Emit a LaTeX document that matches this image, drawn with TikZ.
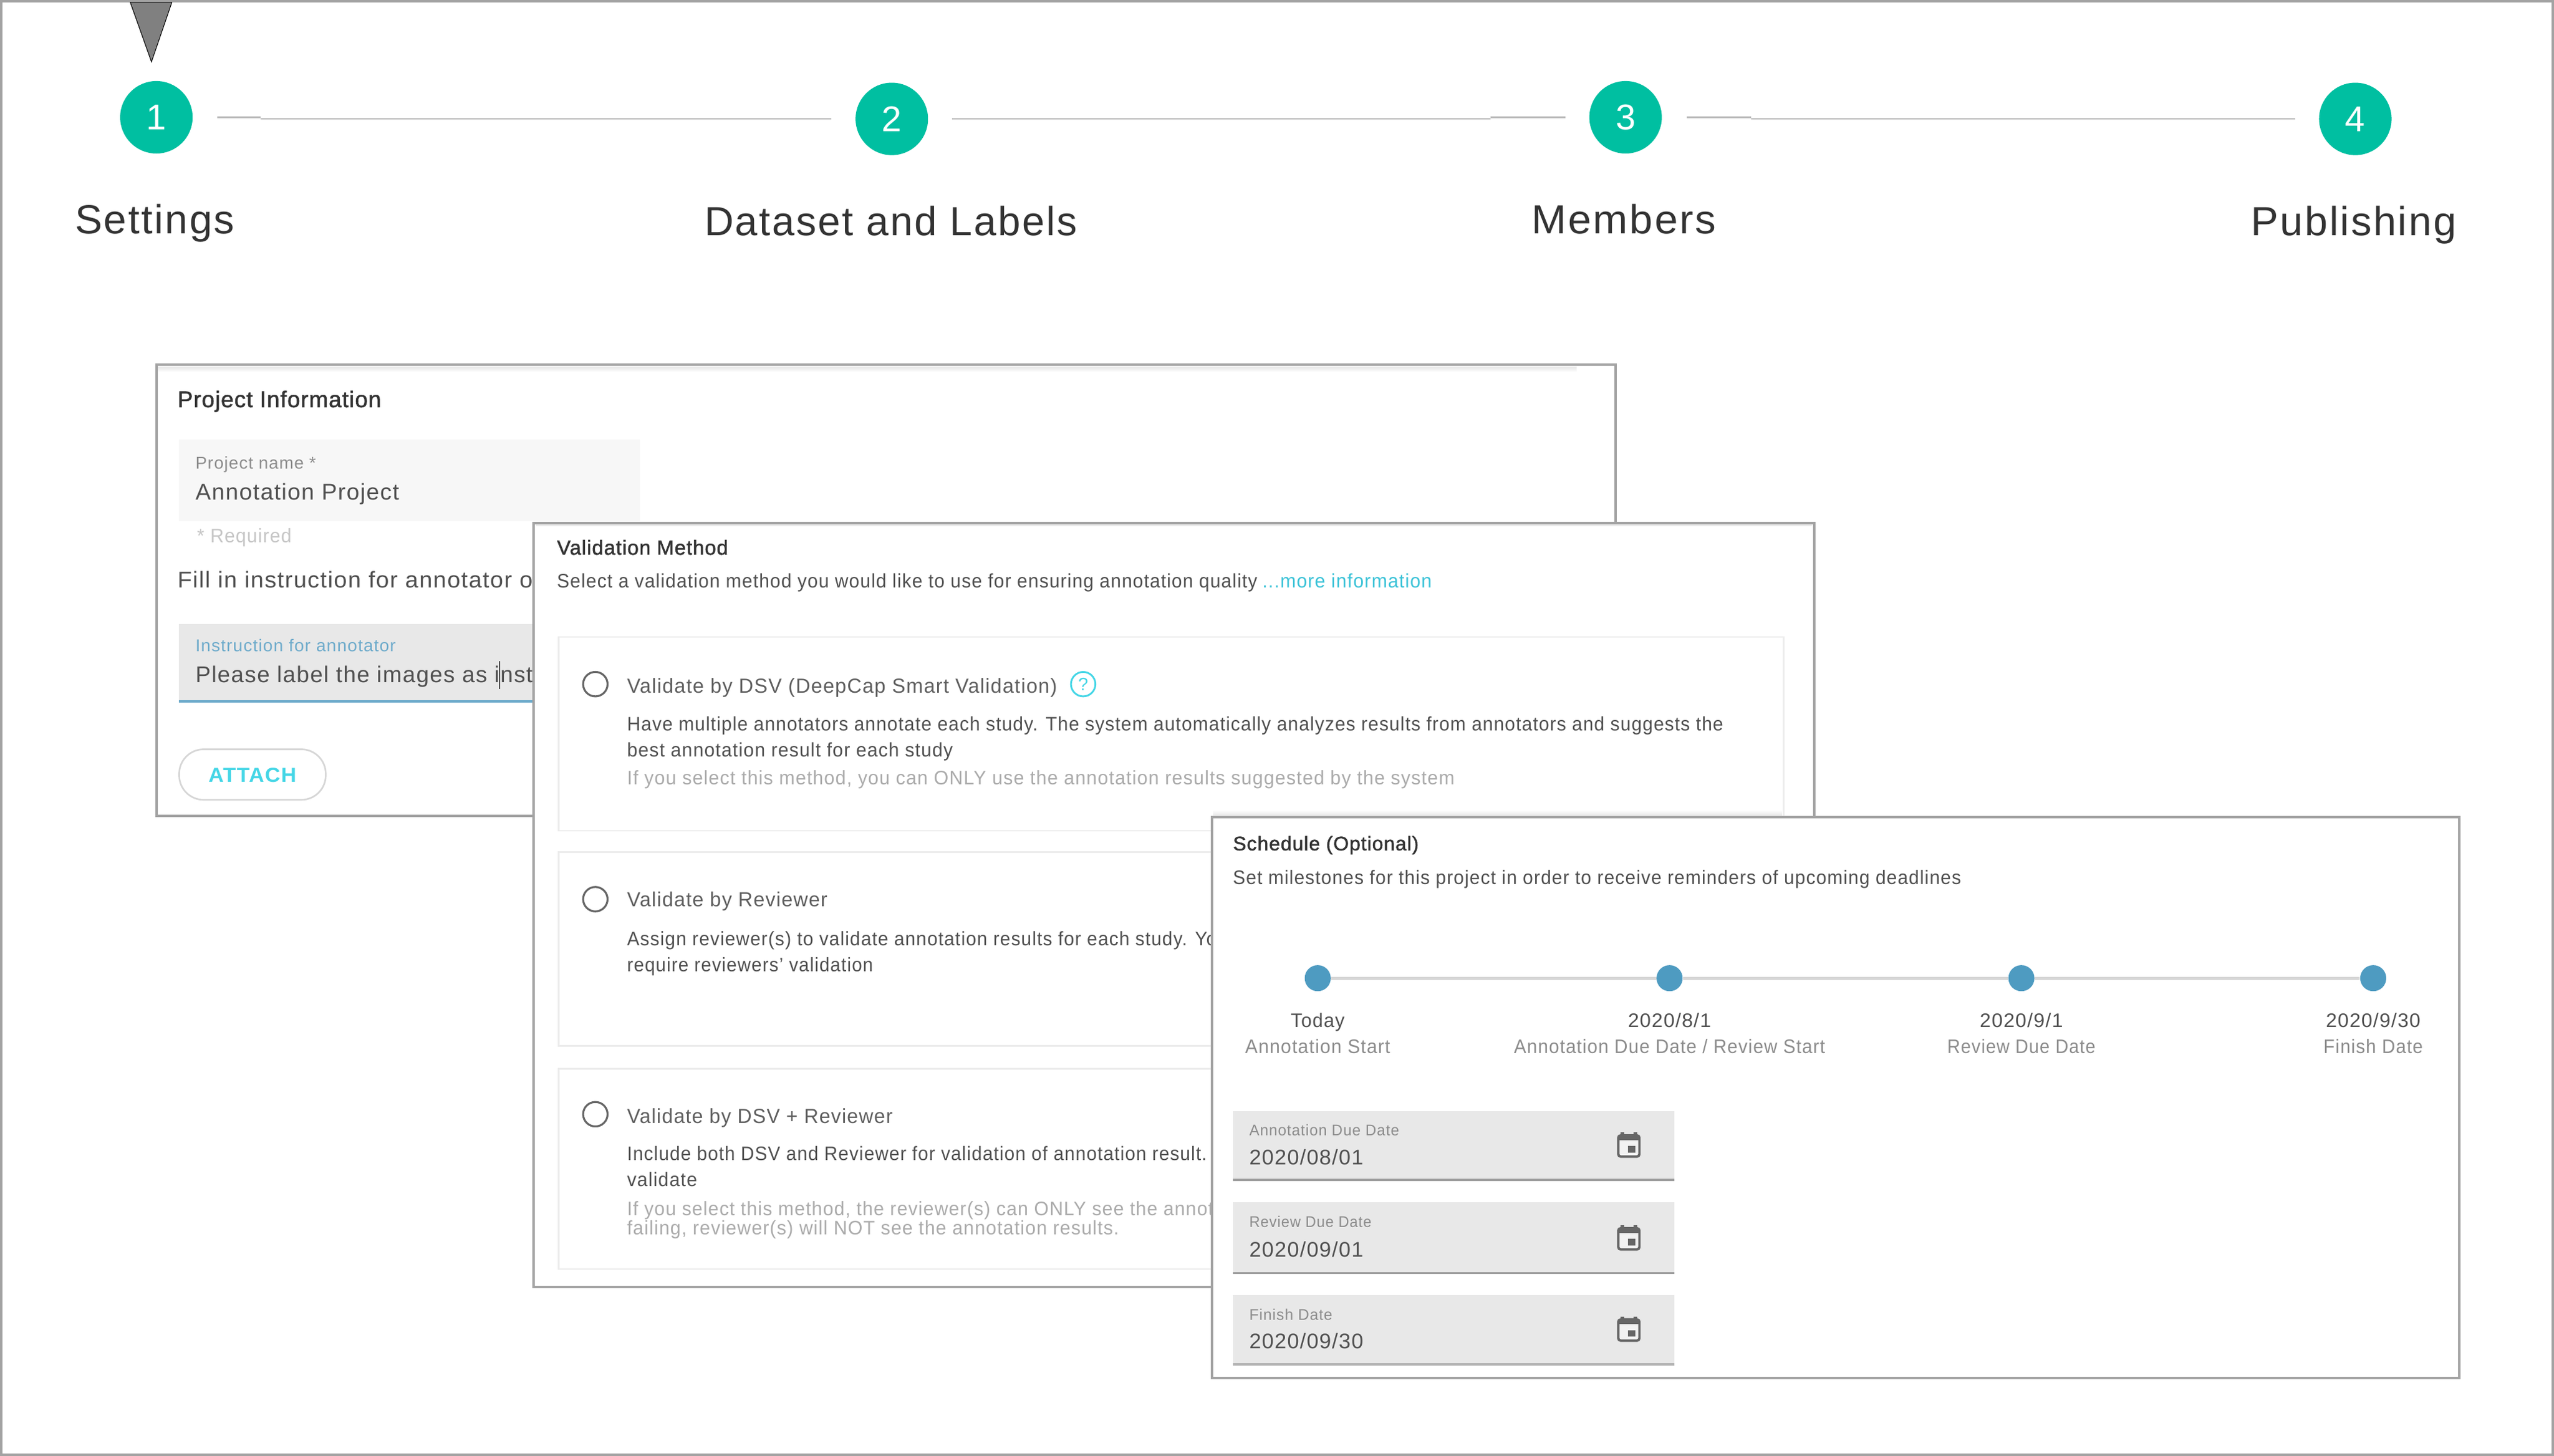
\documentclass[tikz,border=0pt]{standalone}
\usepackage{fontspec}
\usepackage{graphicx}
\setmainfont[LetterSpace=4]{Liberation Sans}
\newfontfamily\med[FakeBold=1.5,LetterSpace=3]{Liberation Sans}
\newcommand{\fw}[2]{\resizebox{#1pt}{\height}{#2}}
\newcommand{\fs}[1]{\fontsize{#1pt}{#1pt}\selectfont}
\definecolor{teal1}{HTML}{00BFA1}
\definecolor{frame1}{HTML}{A3A3A3}
\definecolor{line1}{HTML}{B9B9B9}
\definecolor{dark1}{HTML}{333333}
\definecolor{body1}{HTML}{505050}
\definecolor{mid1}{HTML}{5F5F5F}
\definecolor{hint1}{HTML}{ABABAB}
\definecolor{soft1}{HTML}{C6C6C6}
\definecolor{lab1}{HTML}{8C8C8C}
\definecolor{field1}{HTML}{E8E8E8}
\definecolor{field2}{HTML}{F7F7F7}
\definecolor{blue1}{HTML}{6EABCB}
\definecolor{dot1}{HTML}{4E9BC1}
\definecolor{cyan1}{HTML}{45D6E6}
\definecolor{link1}{HTML}{3CC3D8}
\definecolor{card1}{HTML}{ECECEC}
\definecolor{tick1}{HTML}{D6D6D6}
\definecolor{ico1}{HTML}{666666}
\tikzset{
  x=1pt,y=-1pt,
  txt/.style={anchor=base west,inner sep=0pt,outer sep=0pt},
  ctr/.style={anchor=base,inner sep=0pt,outer sep=0pt},
  stepdot/.style={circle,fill=teal1,minimum size=44.5pt,inner sep=0pt,text=white,font=\fs{22}},
  conn/.style={draw=line1,line width=1pt},
  steplabel/.style={ctr,text=dark1,font=\fs{25}},
  panel/.style={draw=frame1,fill=white,line width=1.5pt},
  card/.style={draw=card1,line width=1pt},
  radio/.style={circle,draw=ico1,line width=1.2pt,minimum size=15pt,inner sep=0pt},
  mile/.style={circle,fill=dot1,minimum size=16pt,inner sep=0pt},
  tl/.style={draw=tick1,line width=2pt},
}
\newcommand{\calicon}[2]{%
  \begin{scope}[shift={(#2)}]
  \node[draw=ico1,fill=black!5,line width=1.5pt,rounded corners=1.5pt,minimum width=13pt,minimum height=13pt,inner sep=0pt] (#1) at (0,0) {};
  \fill[ico1] (-6.5,-6.5) rectangle (6.5,-3.5);
  \fill[ico1] (-5,-8.3) rectangle (-3,-6.5);
  \fill[ico1] (3,-8.3) rectangle (5,-6.5);
  \fill[ico1] (-0.5,0) rectangle (4,4);
  \end{scope}
}
\begin{document}
\begin{tikzpicture}
\useasboundingbox (0,0) rectangle (1568,893.8);
\fill[white] (0,0) rectangle (1568,893.8);
\draw[frame1,line width=1.6pt] (0.6,0.8) rectangle (1567.4,893);
% pointer
\draw[draw=black,line width=0.4pt,fill=black!50] (80,1.5) -- (105.5,1.5) -- (93,38) -- cycle;
% steps
\node[stepdot] (s1) at (96,72) {1};
\node[stepdot] (s2) at (547.5,73) {2};
\node[stepdot] (s3) at (998,72) {3};
\node[stepdot] (s4) at (1446,73) {4};
\coordinate (j1a) at (160,72); \coordinate (j1b) at (160,73);
\coordinate (j2a) at (915,73); \coordinate (j2b) at (915,72);
\coordinate (j3a) at (1075,72); \coordinate (j3b) at (1075,73);
\draw[conn,shorten <=15pt] (s1.east) -- (j1a);
\draw[conn,shorten >=14.5pt] (j1b) -- (s2.west);
\draw[conn,shorten <=14.5pt] (s2.east) -- (j2a);
\draw[conn,shorten >=14.5pt] (j2b) -- (s3.west);
\draw[conn,shorten <=15pt] (s3.east) -- (j3a);
\draw[conn,shorten >=14.5pt] (j3b) -- (s4.west);
\node[steplabel] (l1) at (95,143.5) {\fw{98}{Settings}};
\node[steplabel] (l2) at (547,144.5) {\fw{229}{Dataset and Labels}};
\node[steplabel] (l3) at (997,143.5) {\fw{113}{Members}};
\node[steplabel] (l4) at (1445,144.5) {\fw{126}{Publishing}};
% panel 1
\draw[panel] (96,224) rectangle (992,501);
\shade[top color=black!10,bottom color=white] (97,225) rectangle (968,228.5);
\node[txt,text=dark1,font=\med\fs{14}] (p1t) at (109,250) {\fw{125}{Project Information}};
\fill[field2] (110,270) rectangle (393,320);
\node[txt,text=lab1,font=\fs{10.5}] (p1a) at (120,288) {\fw{74}{Project name *}};
\node[txt,text=body1,font=\fs{14}] (p1b) at (120,307) {\fw{125}{Annotation Project}};
\node[txt,text=soft1,font=\fs{12}] (p1c) at (121,333) {\fw{58}{* Required}};
\node[txt,text=body1,font=\fs{14}] (p1d) at (109,361) {\fw{218}{Fill in instruction for annotator o}};
\fill[field1] (110,383) rectangle (329,430);
\draw[blue1,line width=1.5pt] (110,430.5) -- (329,430.5);
\node[txt,text=blue1,font=\fs{10.5}] (p1e) at (120,400) {\fw{123}{Instruction for annotator}};
\node[txt,text=body1,font=\fs{14}] (p1f) at (120,419) {\fw{207}{Please label the images as inst}};
\draw[black!70,line width=0.8pt] (306.7,406) -- (306.7,423);
\node[draw=tick1,line width=1pt,rounded corners=15pt,minimum width=90pt,minimum height=31pt,inner sep=0pt] (att) at (155,475.5) {};
\node[ctr,text=cyan1,font=\bfseries\fs{12.5}] (attt) at (155,480) {\fw{54}{ATTACH}};
% panel 2
\draw[panel] (327.5,321) rectangle (1114,790);
\fill[black!8] (329,322) rectangle (1112.5,323);
\node[txt,text=dark1,font=\med\fs{12.5}] (p2t) at (342,340.5) {\fw{105}{Validation Method}};
\node[txt,text=body1,font=\fs{12}] (p2a) at (342,361) {\fw{430}{Select a validation method you would like to use for ensuring annotation quality}};
\node[txt,text=link1,font=\fs{12}] (p2b) at (775,361) {\fw{104}{...more information}};
\draw[card] (343,391) rectangle (1095,510);
\node[radio] (r1) at (365.5,420) {};
\node[txt,text=mid1,font=\fs{12.5}] (c1t) at (385,425.5) {\fw{264}{Validate by DSV (DeepCap Smart Validation)}};
\node[circle,draw=cyan1,line width=1.1pt,minimum size=15pt,inner sep=0pt,text=cyan1,font=\fs{11}] (help) at (665,420) {?};
\node[txt,text=body1,font=\fs{12}] (c1a) at (385,448.5) {\fw{673}{Have multiple annotators annotate each study. The system automatically analyzes results from annotators and suggests the}};
\node[txt,text=body1,font=\fs{12}] (c1b) at (385,464.5) {\fw{200}{best annotation result for each study}};
\node[txt,text=hint1,font=\fs{12}] (c1c) at (385,481.5) {\fw{508}{If you select this method, you can ONLY use the annotation results suggested by the system}};
\draw[card] (343,523) rectangle (1095,642);
\node[radio] (r2) at (365.5,552) {};
\node[txt,text=mid1,font=\fs{12.5}] (c2t) at (385,556.5) {\fw{123}{Validate by Reviewer}};
\node[txt,text=body1,font=\fs{12}] (c2a) at (385,580.5) {\fw{362}{Assign reviewer(s) to validate annotation results for each study. Yo}};
\node[txt,text=body1,font=\fs{12}] (c2b) at (385,596.5) {\fw{151}{require reviewers' validation}};
\draw[card] (343,656) rectangle (1095,779);
\node[radio] (r3) at (365.5,684) {};
\node[txt,text=mid1,font=\fs{12.5}] (c3t) at (385,689.5) {\fw{163}{Validate by DSV + Reviewer}};
\node[txt,text=body1,font=\fs{12}] (c3a) at (385,712.5) {\fw{356}{Include both DSV and Reviewer for validation of annotation result.}};
\node[txt,text=body1,font=\fs{12}] (c3b) at (385,728.5) {\fw{43}{validate}};
\node[txt,text=hint1,font=\fs{12}] (c3c) at (385,746) {\fw{360}{If you select this method, the reviewer(s) can ONLY see the annot}};
\node[txt,text=hint1,font=\fs{12}] (c3d) at (385,758) {\fw{302}{failing, reviewer(s) will NOT see the annotation results.}};
% panel 3
\shade[top color=white,bottom color=black!10] (745,497) rectangle (1094,501);
\draw[panel] (744,501.7) rectangle (1510,846);
\node[txt,text=dark1,font=\med\fs{12}] (p3t) at (757,522) {\fw{114}{Schedule (Optional)}};
\node[txt,text=body1,font=\fs{12}] (p3a) at (757,543) {\fw{447}{Set milestones for this project in order to receive reminders of upcoming deadlines}};
\node[mile] (d1) at (809,600.5) {};
\node[mile] (d2) at (1025,600.5) {};
\node[mile] (d3) at (1241,600.5) {};
\node[mile] (d4) at (1457,600.5) {};
\draw[tl] (d1) -- (d2);
\draw[tl] (d2) -- (d3);
\draw[tl] (d3) -- (d4);
\node[ctr,text=body1,font=\fs{12}] (t1a) at (809,630.5) {\fw{33}{Today}};
\node[ctr,text=lab1,font=\fs{12}] (t1b) at (809,646.5) {\fw{89}{Annotation Start}};
\node[ctr,text=body1,font=\fs{12}] (t2a) at (1025,630.5) {\fw{51}{2020/8/1}};
\node[ctr,text=lab1,font=\fs{12}] (t2b) at (1025,646.5) {\fw{191}{Annotation Due Date / Review Start}};
\node[ctr,text=body1,font=\fs{12}] (t3a) at (1241,630.5) {\fw{51}{2020/9/1}};
\node[ctr,text=lab1,font=\fs{12}] (t3b) at (1241,646.5) {\fw{91}{Review Due Date}};
\node[ctr,text=body1,font=\fs{12}] (t4a) at (1457,630.5) {\fw{58}{2020/9/30}};
\node[ctr,text=lab1,font=\fs{12}] (t4b) at (1457,646.5) {\fw{61}{Finish Date}};
% date fields
\fill[field1] (757,682) rectangle (1028,724);
\draw[black!38,line width=1.5pt] (757,724.5) -- (1028,724.5);
\node[txt,text=lab1,font=\fs{9.5}] (f1a) at (767,697) {\fw{92}{Annotation Due Date}};
\node[txt,text=body1,font=\fs{13}] (f1b) at (767,715) {\fw{70}{2020/08/01}};
\calicon{f1c}{1000,703.5}
\fill[field1] (757,738) rectangle (1028,781);
\draw[black!38,line width=1.2pt] (757,781.5) -- (1028,781.5);
\node[txt,text=lab1,font=\fs{9.5}] (f2a) at (767,753.5) {\fw{75}{Review Due Date}};
\node[txt,text=body1,font=\fs{13}] (f2b) at (767,771.5) {\fw{70}{2020/09/01}};
\calicon{f2c}{1000,760.5}
\fill[field1] (757,795) rectangle (1028,837);
\draw[black!30,line width=1.5pt] (757,837.5) -- (1028,837.5);
\node[txt,text=lab1,font=\fs{9.5}] (f3a) at (767,810.5) {\fw{51}{Finish Date}};
\node[txt,text=body1,font=\fs{13}] (f3b) at (767,828) {\fw{70}{2020/09/30}};
\calicon{f3c}{1000,816.5}
\end{tikzpicture}
\end{document}
